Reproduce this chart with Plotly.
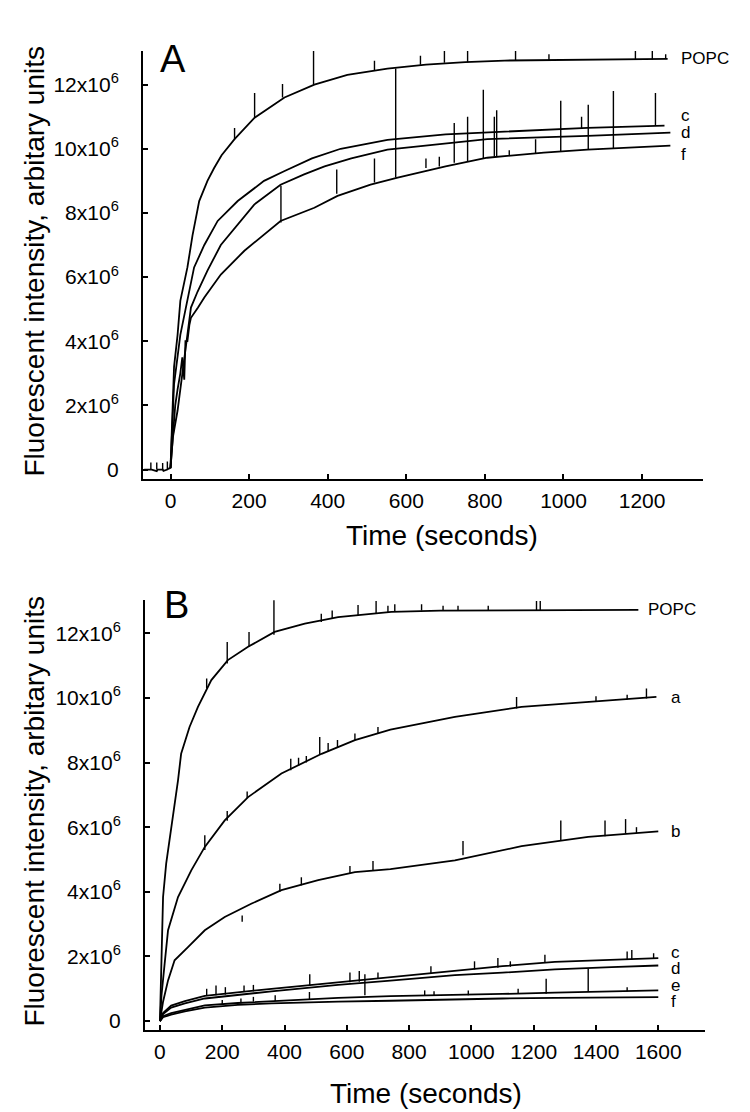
import plotly.graph_objects as go

# ---------------- Panel A data (time in s, intensity in 10^6 units) ----------------
tA_popc = [-67, -50, -48, -35, -33, -20, -18, -8, -6, 0, 3, 5, 9, 18, 25, 43, 56, 73, 94, 111, 130, 163, 214, 290, 366, 450, 519, 552, 650, 750, 850, 1000, 1265]
vA_popc = [0.0, 0.0, 0.0, -0.05, 0.0, 0.0, -0.04, 0.0, 0.02, 0.05, 1.0, 2.1, 3.2, 4.2, 5.26, 6.3, 7.3, 8.37, 9.0, 9.4, 9.8, 10.3, 10.97, 11.6, 12.0, 12.3, 12.43, 12.5, 12.62, 12.7, 12.75, 12.77, 12.8]

tA_c = [0, 4, 9, 25, 43, 60, 86, 120, 171, 238, 289, 360, 433, 552, 700, 890, 1061, 1257]
vA_c = [0.05, 1.5, 2.66, 4.2, 5.26, 6.3, 7.0, 7.75, 8.37, 9.0, 9.3, 9.7, 10.0, 10.28, 10.45, 10.56, 10.65, 10.72]

tA_d = [0, 6, 18, 35, 52, 69, 94, 128, 171, 213, 280, 340, 392, 460, 552, 806, 1061, 1272]
vA_d = [0.05, 1.0, 1.84, 3.4, 5.05, 5.55, 6.2, 7.0, 7.64, 8.26, 8.88, 9.2, 9.45, 9.7, 9.97, 10.3, 10.4, 10.5]

tA_f = [0, 5, 12, 18, 25, 30, 35, 38, 43, 48, 52, 70, 86, 128, 188, 280, 366, 425, 509, 578, 700, 806, 950, 1061, 1272]
vA_f = [0.05, 1.0, 2.0, 2.5, 3.0, 3.5, 2.8, 4.0, 4.0, 4.5, 4.73, 5.05, 5.36, 6.08, 6.82, 7.75, 8.16, 8.53, 8.88, 9.1, 9.45, 9.72, 9.88, 9.97, 10.1]

# spikes: time, lower value, upper value
spA_t  = [-50, -35, -20, -8, 163, 214, 285, 364, 519, 636, 697, 756, 878, 963, 1183, 1226, 1260,
          281, 423, 519, 573, 650, 684, 722, 756, 796, 824, 830, 862, 929, 993, 1046, 1063, 1127, 1234]
spA_lo = [0.0, 0.0, 0.0, 0.0, 10.3, 10.97, 11.6, 12.0, 12.43, 12.62, 12.68, 12.7, 12.76, 12.77, 12.78, 12.78, 12.8,
          7.7, 8.6, 8.95, 9.1, 9.4, 9.45, 9.56, 9.6, 9.7, 9.75, 9.75, 9.8, 9.85, 9.9, 10.65, 9.97, 10.0, 10.72]
spA_hi = [0.22, 0.22, 0.2, 0.25, 10.65, 11.74, 12.02, 13.05, 12.74, 12.9, 13.05, 13.05, 13.05, 12.95, 13.05, 13.05, 12.95,
          8.85, 9.35, 9.7, 12.5, 9.7, 9.75, 10.8, 11.0, 11.84, 11.0, 11.2, 9.95, 10.3, 11.5, 11.0, 11.37, 11.8, 11.74]

# ---------------- Panel B data ----------------
tB_popc = [0, 3, 6, 10, 20, 36, 58, 68, 95, 122, 165, 218, 283, 368, 465, 572, 743, 900, 1100, 1300, 1536]
vB_popc = [0.0, 1.0, 2.2, 3.84, 4.87, 5.9, 7.45, 8.27, 9.1, 9.72, 10.55, 11.17, 11.58, 12.04, 12.3, 12.5, 12.66, 12.7, 12.71, 12.72, 12.72]

tB_a = [0, 5, 15, 26, 58, 101, 144, 208, 283, 390, 519, 626, 740, 947, 1161, 1375, 1594]
vB_a = [0.0, 0.8, 1.77, 2.81, 3.84, 4.67, 5.39, 6.21, 6.93, 7.66, 8.27, 8.69, 9.02, 9.41, 9.72, 9.88, 10.03]

tB_b = [0, 10, 26, 47, 90, 144, 208, 293, 390, 508, 626, 740, 947, 1161, 1375, 1600]
vB_b = [0.0, 0.6, 1.26, 1.88, 2.29, 2.81, 3.22, 3.63, 4.05, 4.36, 4.61, 4.7, 4.97, 5.41, 5.7, 5.87]

tB_low = [0, 10, 36, 80, 144, 250, 358, 465, 572, 740, 947, 1100, 1268, 1450, 1600]
vB_c = [0.0, 0.25, 0.48, 0.62, 0.78, 0.9, 1.0, 1.1, 1.2, 1.36, 1.57, 1.7, 1.83, 1.9, 1.95]
vB_d = [0.0, 0.22, 0.42, 0.55, 0.7, 0.82, 0.92, 1.02, 1.12, 1.25, 1.42, 1.5, 1.6, 1.67, 1.72]
vB_e = [0.0, 0.15, 0.25, 0.35, 0.49, 0.56, 0.62, 0.68, 0.72, 0.77, 0.8, 0.84, 0.88, 0.92, 0.95]
vB_f = [0.0, 0.12, 0.2, 0.3, 0.42, 0.5, 0.55, 0.58, 0.6, 0.63, 0.68, 0.7, 0.72, 0.73, 0.74]

spB_t  = [150, 216, 286, 366, 518, 553, 636, 694, 732, 754, 840, 909, 957, 1054, 1209, 1221,
          144, 216, 280, 420, 445, 470, 513, 540, 570, 626, 700, 1145, 1400, 1500, 1562,
          264, 385, 454, 610, 684, 973, 1287, 1429, 1495, 1530,
          150, 180, 210, 270, 300, 481, 610, 640, 658, 700, 870, 1010, 1085, 1125, 1236, 1500, 1515, 1585,
          200, 260, 300, 370, 480, 850, 880, 990, 1150, 1240, 1375, 1500]
spB_lo = [10.3, 11.06, 11.58, 11.95, 12.35, 12.45, 12.56, 12.62, 12.65, 12.66, 12.7, 12.7, 12.71, 12.71, 12.71, 12.71,
          5.29, 6.2, 6.9, 7.76, 7.9, 8.0, 8.23, 8.33, 8.45, 8.69, 8.9, 9.67, 9.9, 9.95, 9.98,
          3.07, 4.0, 4.2, 4.58, 4.65, 5.13, 5.6, 5.72, 5.8, 5.82,
          0.78, 0.8, 0.82, 0.9, 0.92, 1.1, 1.2, 1.22, 0.8, 1.3, 1.48, 1.6, 1.65, 1.68, 1.8, 1.9, 1.9, 1.95,
          0.5, 0.55, 0.6, 0.62, 0.68, 0.78, 0.78, 0.8, 0.85, 0.85, 0.9, 0.92]
spB_hi = [10.6, 11.73, 12.04, 13.02, 12.6, 12.7, 12.87, 13.0, 12.85, 12.9, 12.9, 12.85, 12.85, 12.85, 13.0, 13.0,
          5.75, 6.5, 7.1, 8.12, 8.15, 8.2, 8.79, 8.6, 8.7, 8.9, 9.1, 10.03, 10.05, 10.1, 10.29,
          3.27, 4.25, 4.45, 4.8, 4.95, 5.57, 6.21, 6.21, 6.25, 6.0,
          1.0, 1.1, 1.05, 1.1, 1.12, 1.45, 1.5, 1.55, 1.45, 1.5, 1.7, 1.85, 1.95, 1.85, 2.05, 2.15, 2.2, 2.1,
          0.65, 0.7, 0.75, 0.8, 0.9, 0.95, 0.92, 0.95, 1.0, 1.31, 1.62, 1.05]

# ticks
y_tickvals = [0, 2, 4, 6, 8, 10, 12]
y_ticktext = ["0", "2x10<sup>6</sup>", "4x10<sup>6</sup>", "6x10<sup>6</sup>", "8x10<sup>6</sup>",
              "10x10<sup>6</sup>", "12x10<sup>6</sup>"]
xA_tickvals = [0, 200, 400, 600, 800, 1000, 1200]
xB_tickvals = [0, 200, 400, 600, 800, 1000, 1200, 1400, 1600]

FONT = "Liberation Sans, Arial, Helvetica, sans-serif"
LW = 1.8


def spikes(ts, lo, hi):
    xs, ys = [], []
    for t, a, b in zip(ts, lo, hi):
        xs += [t, t, None]
        ys += [a, b, None]
    return xs, ys


fig = go.Figure()
line = dict(color="black", width=LW)

for t, v in [(tA_popc, vA_popc), (tA_c, vA_c), (tA_d, vA_d), (tA_f, vA_f)]:
    fig.add_trace(go.Scatter(x=t, y=v, mode="lines", line=line, xaxis="x", yaxis="y", showlegend=False))
sx, sy = spikes(spA_t, spA_lo, spA_hi)
fig.add_trace(go.Scatter(x=sx, y=sy, mode="lines", line=dict(color="black", width=1.4),
                         xaxis="x", yaxis="y", showlegend=False))

for t, v in [(tB_popc, vB_popc), (tB_a, vB_a), (tB_b, vB_b), (tB_low, vB_c), (tB_low, vB_d),
             (tB_low, vB_e), (tB_low, vB_f)]:
    fig.add_trace(go.Scatter(x=t, y=v, mode="lines", line=line, xaxis="x2", yaxis="y2", showlegend=False))
sx, sy = spikes(spB_t, spB_lo, spB_hi)
fig.add_trace(go.Scatter(x=sx, y=sy, mode="lines", line=dict(color="black", width=1.4),
                         xaxis="x2", yaxis="y2", showlegend=False))

W, H = 750, 1112
axis_common = dict(showgrid=False, zeroline=False, showline=True, linecolor="black", linewidth=2,
                   ticks="inside", ticklen=5, tickwidth=1.5, tickcolor="black",
                   tickfont=dict(family=FONT, size=21, color="black"))

fig.update_layout(
    width=W, height=H, margin=dict(l=0, r=0, t=0, b=0),
    paper_bgcolor="white", plot_bgcolor="white",
    xaxis=dict(domain=[135 / W, 695 / W], range=[-70, 1355], tickvals=xA_tickvals, anchor="y",
               ticklabelstandoff=2, **axis_common),
    yaxis=dict(domain=[1 - 472 / H, 1 - 43 / H], range=[-0.3, 13.05], tickvals=y_tickvals,
               ticktext=y_ticktext, anchor="x", ticklabelstandoff=18, **axis_common),
    xaxis2=dict(domain=[137 / W, 697 / W], range=[-48, 1750], tickvals=xB_tickvals, anchor="y2",
                ticklabelstandoff=2, **axis_common),
    yaxis2=dict(domain=[1 - 1024 / H, 1 - 593 / H], range=[-0.28, 13.03], tickvals=y_tickvals,
                ticktext=y_ticktext, anchor="x2", ticklabelstandoff=18, **axis_common),
)

ann = []
lab_font = dict(family=FONT, size=17, color="black")
# curve labels panel A
for txt, x, y in [("POPC", 1295, 12.82), ("c", 1295, 11.03), ("d", 1295, 10.5), ("f", 1295, 9.81)]:
    ann.append(dict(text=txt, x=x, y=y, xref="x", yref="y", xanchor="left", yanchor="middle",
                    showarrow=False, font=lab_font))
# curve labels panel B
for txt, x, y in [("POPC", 1560, 12.72), ("a", 1635, 10.0), ("b", 1635, 5.87), ("c", 1635, 2.135),
                  ("d", 1635, 1.64), ("e", 1635, 1.11), ("f", 1635, 0.62)]:
    ann.append(dict(text=txt, x=x, y=y, xref="x2", yref="y2", xanchor="left", yanchor="middle",
                    showarrow=False, font=lab_font))
# panel letters
for txt, x, y in [("A", 165 / W, 1 - 51 / H), ("B", 168 / W, 1 - 598 / H)]:
    ann.append(dict(text=txt, x=x, y=y, xref="paper", yref="paper", xanchor="center", yanchor="middle",
                    showarrow=False, font=dict(family=FONT, size=38, color="black")))
# axis titles
title_font = dict(family=FONT, size=28, color="black")
for x, y, txt, ang in [(27 / W, 1 - 254 / H, "Fluorescent intensity, arbitary units", -90),
                       (434 / W, 1 - 528 / H, "Time (seconds)", 0),
                       (27 / W, 1 - 805 / H, "Fluorescent intensity, arbitary units", -90),
                       (418 / W, 1 - 1087 / H, "Time (seconds)", 0)]:
    ann.append(dict(text=txt, x=x, y=y, xref="paper", yref="paper", xanchor="center", yanchor="middle",
                    showarrow=False, textangle=ang, font=title_font))
fig.update_layout(annotations=ann)

fig.write_html("out.html")
